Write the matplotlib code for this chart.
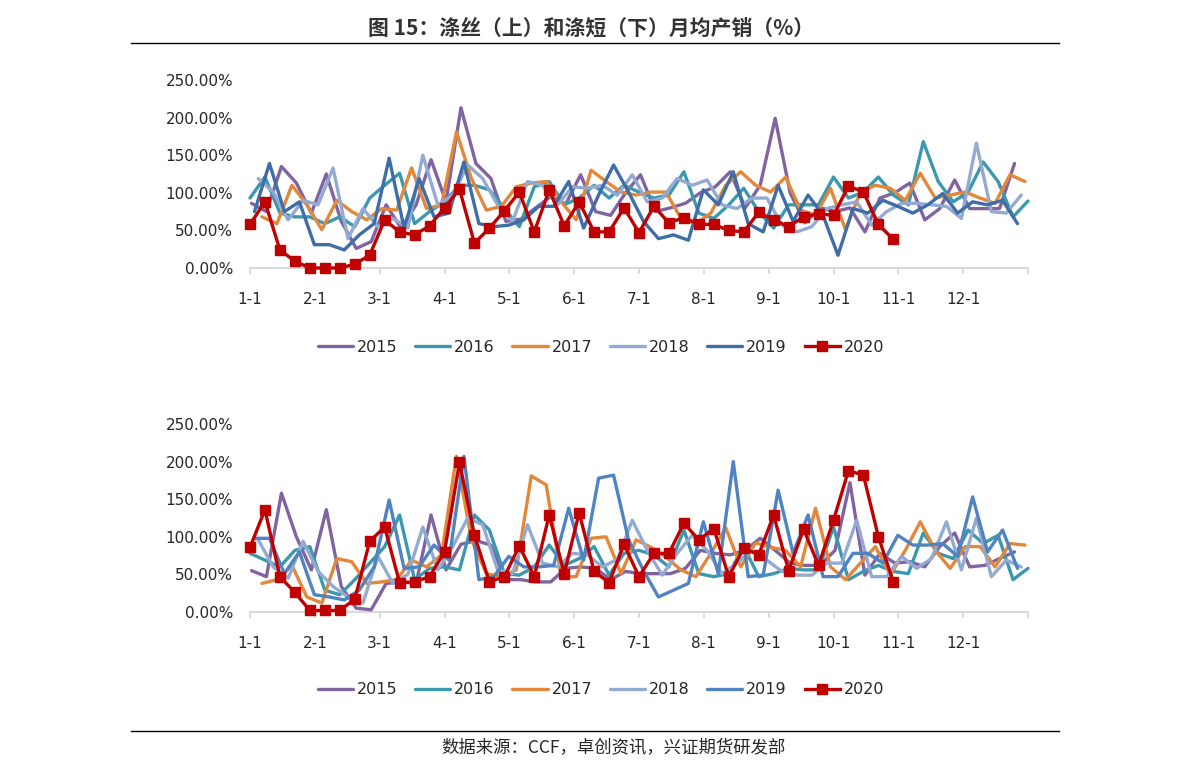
import matplotlib
matplotlib.use('Agg')
import matplotlib.pyplot as plt
import numpy as np
from matplotlib.lines import Line2D

years = ['2015', '2016', '2017', '2018', '2019', '2020']
month_labels = ['1-1', '2-1', '3-1', '4-1', '5-1', '6-1', '7-1', '8-1', '9-1', '10-1', '11-1', '12-1']
y_ticks = [0, 50, 100, 150, 200, 250]

# ---- 涤丝 (top) weekly production/sales ratio, % ----
silk_2015 = [86, 75, 135, 113, 73, 125, 62, 26, 35, 84, 53, 84, 144, 88, 213, 139, 119, 62, 65, 80,
             95, 85, 124, 75, 70, 100, 124, 75, 80, 86, 100, 108, 128, 80, 110, 199, 100, 60, 80, 75,
             80, 48, 93, 100, 113, 64, 79, 117, 79, 79, 79, 139]
silk_2016 = [93, 121, 73, 68, 68, 59, 68, 55, 93, 110, 126, 59, 75, 88, 110, 110, 104, 79, 55, 108,
             115, 84, 93, 110, 93, 110, 101, 93, 97, 128, 73, 66, 84, 106, 75, 53, 84, 84, 84, 121,
             93, 101, 121, 97, 84, 168, 115, 88, 101, 141, 115, 68, 89]
silk_2017 = [68, 59, 110, 84, 51, 90, 75, 64, 79, 77, 133, 79, 84, 181, 119, 77, 82, 108, 113, 115,
             88, 64, 130, 115, 101, 97, 101, 101, 66, 59, 73, 110, 128, 110, 101, 121, 77, 70, 106, 51,
             101, 110, 106, 90, 126, 93, 97, 101, 93, 86, 124, 115]
silk_2018 = [119, 101, 64, 90, 84, 133, 39, 79, 55, 66, 53, 150, 84, 97, 137, 119, 84, 62, 115, 110,
             84, 108, 106, 110, 97, 124, 88, 93, 119, 110, 117, 84, 79, 93, 93, 57, 48, 55, 79, 84,
             88, 57, 75, 86, 86, 84, 82, 66, 166, 75, 73, 97]
silk_2019 = [75, 139, 75, 88, 31, 31, 24, 44, 59, 146, 53, 119, 68, 73, 141, 59, 55, 57, 64, 82,
             82, 115, 53, 97, 137, 101, 62, 39, 44, 37, 104, 84, 128, 59, 48, 110, 62, 97, 70, 17,
             79, 73, 90, 82, 73, 84, 99, 73, 88, 84, 90, 59]
silk_2020 = [58, 88, 24, 9, 0, 0, 0, 5, 17, 64, 48, 44, 56, 80, 105, 33, 53, 76, 101, 48,
             104, 56, 88, 48, 48, 80, 47, 82, 60, 67, 58, 58, 50, 48, 74, 64, 55, 68, 72, 70,
             109, 101, 58, 38]

# ---- 涤短 (bottom) ----
staple_2015 = [55, 47, 158, 100, 56, 136, 34, 5, 3, 38, 40, 38, 129, 56, 90, 95, 89, 43, 43, 40,
               40, 58, 60, 58, 43, 54, 51, 51, 51, 58, 82, 78, 76, 82, 98, 82, 65, 62, 62, 82,
               172, 49, 78, 65, 67, 60, 87, 105, 60, 62, 71, 80]
staple_2016 = [78, 69, 60, 82, 87, 29, 23, 43, 65, 87, 129, 43, 58, 60, 56, 129, 109, 51, 49, 60,
               89, 62, 71, 87, 49, 78, 82, 76, 60, 109, 51, 47, 51, 87, 47, 51, 58, 56, 56, 113,
               43, 54, 62, 54, 51, 105, 78, 71, 109, 91, 102, 43, 58]
staple_2017 = [38, 43, 62, 20, 12, 71, 67, 38, 40, 43, 69, 60, 76, 207, 96, 51, 47, 56, 181, 169,
               47, 47, 98, 100, 51, 96, 86, 73, 56, 47, 78, 112, 60, 92, 86, 82, 60, 138, 60, 43,
               65, 87, 49, 82, 120, 82, 58, 87, 87, 60, 91, 89]
staple_2018 = [96, 60, 45, 94, 54, 34, 20, 12, 74, 38, 50, 113, 56, 87, 125, 116, 56, 51, 116, 65,
               60, 78, 76, 60, 70, 122, 82, 49, 78, 102, 82, 51, 65, 82, 69, 54, 49, 49, 65, 65,
               122, 47, 47, 74, 58, 71, 120, 56, 125, 47, 69, 60]
staple_2019 = [98, 98, 51, 80, 23, 20, 16, 29, 60, 149, 58, 60, 89, 69, 207, 43, 47, 74, 60, 60,
               62, 138, 69, 178, 182, 96, 55, 20, 29, 38, 120, 51, 200, 47, 49, 162, 78, 129, 47, 47,
               78, 78, 65, 102, 89, 89, 91, 74, 153, 80, 109, 58]
staple_2020 = [86, 136, 47, 26, 2, 2, 2, 17, 94, 113, 39, 40, 47, 80, 199, 102, 40, 47, 88, 47,
               129, 51, 132, 54, 39, 90, 47, 78, 78, 118, 96, 111, 47, 85, 76, 129, 55, 110, 62, 122,
               188, 182, 100, 40]

top_data = dict(zip(years, [silk_2015, silk_2016, silk_2017, silk_2018, silk_2019, silk_2020]))
bot_data = dict(zip(years, [staple_2015, staple_2016, staple_2017, staple_2018, staple_2019, staple_2020]))

# style: colours and week offsets (each year's weekly dates fall on slightly different days)
colors_top = {'2015': '#8064A2', '2016': '#3B98AE', '2017': '#E3873A', '2018': '#93AAD2',
              '2019': '#3E6DA8', '2020': '#C00000'}
colors_bot = {'2015': '#8064A2', '2016': '#3B98AE', '2017': '#E3873A', '2018': '#93AAD2',
              '2019': '#4F83C2', '2020': '#C00000'}
starts = {'2015': 0.1, '2016': 0.0, '2017': 0.8, '2018': 0.55, '2019': 0.3, '2020': 0.0}

W, H = 1191, 776
fig = plt.figure(figsize=(W / 100, H / 100), dpi=100)
fig.patch.set_facecolor('white')


def axes_px(l, t, r, b):
    return fig.add_axes([l / W, 1 - b / H, (r - l) / W, (b - t) / H])


ax_top = axes_px(250, 80, 1028, 268)
ax_bot = axes_px(250, 424, 1028, 612)

tick_font = dict(family='DejaVu Sans', size=11)

for ax, data, cols, leg_y in [(ax_top, top_data, colors_top, 347), (ax_bot, bot_data, colors_bot, 690)]:
    handles = []
    for i, yr in enumerate(years):
        vals = data[yr]
        x = starts[yr] + np.arange(len(vals))
        if yr == '2020':
            ln, = ax.plot(x, vals, color=cols[yr], lw=2.4, marker='s', ms=7.5,
                          solid_joinstyle='round', zorder=10, clip_on=False)
        else:
            ln, = ax.plot(x, vals, color=cols[yr], lw=2.4, solid_joinstyle='round',
                          solid_capstyle='round', zorder=3 + i, clip_on=False)
        handles.append(ln)
    ax.set_xlim(0, 52)
    ax.set_ylim(0, 250)
    ax.set_yticks(y_ticks)
    ax.set_yticklabels([f'{v:.2f}%' for v in y_ticks], **tick_font, color='#262626')
    xt = [52 * k / 12 for k in range(13)]
    ax.set_xticks(xt)
    ax.set_xticklabels(month_labels + [''], **tick_font, color='#262626')
    for s in ['top', 'right', 'left']:
        ax.spines[s].set_visible(False)
    ax.spines['bottom'].set_color('#D9D9D9')
    ax.spines['bottom'].set_linewidth(1.5)
    ax.tick_params(axis='y', length=0, pad=12)
    ax.tick_params(axis='x', length=4.5, width=1.3, color='#D9D9D9', pad=13)
    ax.set_facecolor('none')
    fig.legend(handles, years, ncol=6, loc='center', bbox_to_anchor=(601 / W, 1 - leg_y / H),
               frameon=False, handlelength=2.2, columnspacing=1.1, handletextpad=0.25,
               prop=dict(family='DejaVu Sans', size=11.5), labelcolor='#262626')

# title, rules and source
fig.text(591 / W, 1 - 28 / H, '图 15：涤丝（上）和涤短（下）月均产销（%）',
         ha='center', va='center', fontsize=15, fontweight='bold',
         family=['Noto Sans CJK SC', 'DejaVu Sans'], color='#333333')
fig.add_artist(Line2D([131 / W, 1059 / W], [1 - 43 / H, 1 - 43 / H], color='black', lw=1.0))
fig.add_artist(Line2D([131 / W, 1059 / W], [1 - 731 / H, 1 - 731 / H], color='black', lw=1.0))
fig.text(614 / W, 1 - 748 / H, '数据来源：CCF，卓创资讯，兴证期货研发部',
         ha='center', va='center', fontsize=12.5,
         family=['Noto Sans CJK SC', 'DejaVu Sans'], color='#262626')

fig.savefig('out.png', dpi=100, facecolor='white')
